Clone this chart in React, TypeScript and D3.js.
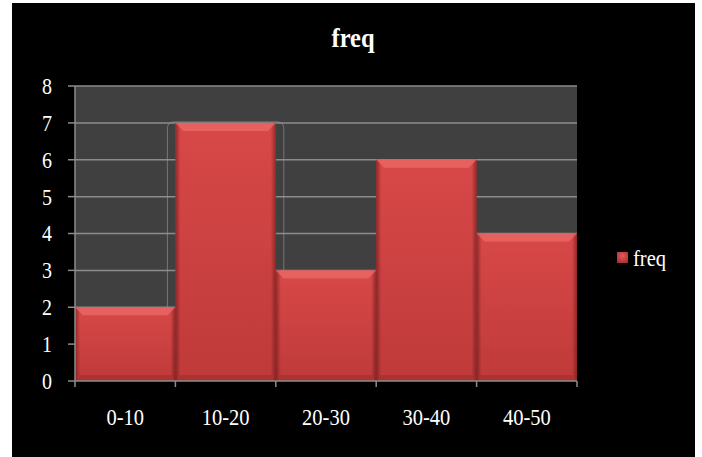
import { useEffect, useRef } from 'react';
import * as d3 from 'd3';

const categories = ['0-10', '10-20', '20-30', '30-40', '40-50'];
const freqValues = [2, 7, 3, 6, 4];
const yTicks = [0, 1, 2, 3, 4, 5, 6, 7, 8];
const seriesName = 'freq';

export default function App() {
  const svgRef = useRef<SVGSVGElement>(null);

  useEffect(() => {
    const root = d3.select(svgRef.current);
    root.selectAll('*').remove();

    const W = 702;
    const H = 457;
    const font = '"Liberation Serif", "Times New Roman", serif';
    const stretch = 1.13; // text in the original is a bit taller than wide

    root.attr('width', W).attr('height', H);

    const defs = root.append('defs');
    const vGrad = defs
      .append('linearGradient')
      .attr('id', 'barV')
      .attr('x1', 0)
      .attr('y1', 0)
      .attr('x2', 0)
      .attr('y2', 1);
    vGrad.append('stop').attr('offset', '0%').attr('stop-color', '#d84848');
    vGrad.append('stop').attr('offset', '100%').attr('stop-color', '#bf3a3a');

    const hGrad = defs
      .append('linearGradient')
      .attr('id', 'barH')
      .attr('x1', 0)
      .attr('y1', 0)
      .attr('x2', 1)
      .attr('y2', 0);
    hGrad.append('stop').attr('offset', '0%').attr('stop-color', '#5a1010').attr('stop-opacity', 0.55);
    hGrad.append('stop').attr('offset', '5%').attr('stop-color', '#5a1010').attr('stop-opacity', 0);
    hGrad.append('stop').attr('offset', '95%').attr('stop-color', '#5a1010').attr('stop-opacity', 0);
    hGrad.append('stop').attr('offset', '100%').attr('stop-color', '#5a1010').attr('stop-opacity', 0.55);

    const legGrad = defs
      .append('radialGradient')
      .attr('id', 'legG')
      .attr('cx', '50%')
      .attr('cy', '35%')
      .attr('r', '70%');
    legGrad.append('stop').attr('offset', '0%').attr('stop-color', '#e35a5a');
    legGrad.append('stop').attr('offset', '100%').attr('stop-color', '#a83030');

    // page + chart background
    root.append('rect').attr('width', W).attr('height', H).attr('fill', '#fff');
    root.append('rect').attr('x', 12).attr('y', 3).attr('width', 683).attr('height', H - 3).attr('fill', '#000');

    const margin = { left: 75, top: 86, right: 577, bottom: 381 };

    const x = d3.scaleBand().domain(categories).range([margin.left, margin.right]).padding(0);
    const y = d3.scaleLinear().domain([0, 8]).range([margin.bottom, margin.top]);

    defs
      .append('clipPath')
      .attr('id', 'plotClip')
      .append('rect')
      .attr('x', margin.left)
      .attr('y', margin.top)
      .attr('width', margin.right - margin.left)
      .attr('height', margin.bottom - margin.top);

    // plot area
    root
      .append('rect')
      .attr('x', margin.left)
      .attr('y', margin.top)
      .attr('width', margin.right - margin.left)
      .attr('height', margin.bottom - margin.top)
      .attr('fill', '#404040');

    // grid lines
    root
      .append('g')
      .selectAll('line')
      .data(yTicks.filter(t => t > 0))
      .enter()
      .append('line')
      .attr('x1', margin.left)
      .attr('x2', margin.right)
      .attr('y1', d => y(d))
      .attr('y2', d => y(d))
      .attr('stroke', '#8c8c8c')
      .attr('stroke-width', 1.5);

    const data = categories.map((c, i) => ({ c, v: freqValues[i] }));
    const maxV = d3.max(freqValues)!;

    // soft outline behind the tallest bar
    root
      .append('g')
      .attr('clip-path', 'url(#plotClip)')
      .selectAll('rect')
      .data(data.filter(d => d.v === maxV))
      .enter()
      .append('rect')
      .attr('x', d => x(d.c)! - 8)
      .attr('y', d => y(d.v) - 1)
      .attr('width', x.bandwidth() + 16)
      .attr('height', d => y(0) - y(d.v) + 1)
      .attr('rx', 6)
      .attr('fill', 'none')
      .attr('stroke', '#9a9a9a')
      .attr('stroke-opacity', 0.6)
      .attr('stroke-width', 1);

    const bars = root.append('g').selectAll('g').data(data).enter().append('g');

    bars
      .append('rect')
      .attr('x', d => x(d.c)!)
      .attr('y', d => y(d.v))
      .attr('width', x.bandwidth())
      .attr('height', d => y(0) - y(d.v))
      .attr('fill', 'url(#barV)');

    bars
      .append('rect')
      .attr('x', d => x(d.c)!)
      .attr('y', d => y(d.v))
      .attr('width', x.bandwidth())
      .attr('height', d => y(0) - y(d.v))
      .attr('fill', 'url(#barH)');

    // top bevel highlight
    bars
      .append('path')
      .attr('d', d => {
        const x0 = x(d.c)!;
        const x1 = x0 + x.bandwidth();
        const yt = y(d.v);
        return `M${x0},${yt}L${x1},${yt}L${x1 - 8},${yt + 8}L${x0 + 8},${yt + 8}Z`;
      })
      .attr('fill', '#ee6a6a')
      .attr('opacity', 0.75);

    // bottom darker band
    bars
      .append('rect')
      .attr('x', d => x(d.c)! + 4)
      .attr('y', y(0) - 6)
      .attr('width', x.bandwidth() - 8)
      .attr('height', 6)
      .attr('fill', '#8a2424')
      .attr('opacity', 0.35);

    // axes
    const axisColor = '#8c8c8c';
    root
      .append('line')
      .attr('x1', margin.left)
      .attr('x2', margin.left)
      .attr('y1', margin.top)
      .attr('y2', margin.bottom)
      .attr('stroke', axisColor)
      .attr('stroke-width', 1.5);
    root
      .append('line')
      .attr('x1', margin.left)
      .attr('x2', margin.right)
      .attr('y1', margin.bottom)
      .attr('y2', margin.bottom)
      .attr('stroke', axisColor)
      .attr('stroke-width', 1.5);

    root
      .append('g')
      .selectAll('line')
      .data(yTicks)
      .enter()
      .append('line')
      .attr('x1', margin.left - 7)
      .attr('x2', margin.left)
      .attr('y1', d => y(d))
      .attr('y2', d => y(d))
      .attr('stroke', axisColor)
      .attr('stroke-width', 1.5);

    const xEdges = categories.map(c => x(c)!).concat([margin.right]);
    root
      .append('g')
      .selectAll('line')
      .data(xEdges)
      .enter()
      .append('line')
      .attr('x1', d => d)
      .attr('x2', d => d)
      .attr('y1', margin.bottom)
      .attr('y2', margin.bottom + 6)
      .attr('stroke', axisColor)
      .attr('stroke-width', 1.5);

    root
      .append('g')
      .selectAll('text')
      .data(yTicks)
      .enter()
      .append('text')
      .attr('transform', d => `translate(47,${y(d)}) scale(1,${stretch})`)
      .attr('dy', '0.35em')
      .attr('text-anchor', 'middle')
      .attr('fill', '#fff')
      .attr('font-family', font)
      .attr('font-size', 20)
      .text(d => d);

    root
      .append('g')
      .selectAll('text')
      .data(categories)
      .enter()
      .append('text')
      .attr('transform', d => `translate(${x(d)! + x.bandwidth() / 2},417) scale(1,${stretch})`)
      .attr('dy', '0.35em')
      .attr('text-anchor', 'middle')
      .attr('fill', '#fff')
      .attr('font-family', font)
      .attr('font-size', 20.5)
      .text(d => d);

    // title
    root
      .append('text')
      .attr('transform', `translate(353,47) scale(1,${stretch})`)
      .attr('text-anchor', 'middle')
      .attr('fill', '#fff')
      .attr('font-family', font)
      .attr('font-weight', 'bold')
      .attr('font-size', 24.5)
      .text(seriesName);

    // legend
    root
      .append('rect')
      .attr('x', 617)
      .attr('y', 252)
      .attr('width', 11)
      .attr('height', 11)
      .attr('fill', 'url(#legG)');
    root
      .append('text')
      .attr('transform', `translate(633,258) scale(1,${stretch})`)
      .attr('dy', '0.35em')
      .attr('fill', '#fff')
      .attr('font-family', font)
      .attr('font-size', 20.5)
      .text(seriesName);
  }, []);

  return (
    <div style={{ position: 'absolute', left: 0, top: 0 }}>
      <svg ref={svgRef} style={{ display: 'block' }}></svg>
    </div>
  );
}
